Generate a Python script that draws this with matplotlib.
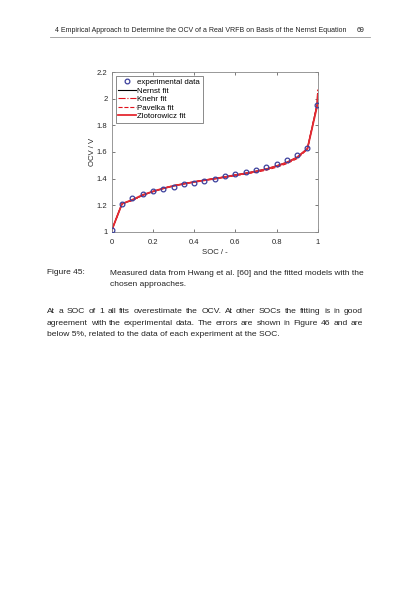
import matplotlib
matplotlib.use('Agg')
import matplotlib.pyplot as plt
import numpy as np

plt.rcParams['font.family'] = ['Liberation Sans', 'DejaVu Sans']

# measured data (Hwang et al.)
soc_exp = [0.0, 0.05, 0.10, 0.15, 0.20, 0.25, 0.30, 0.35, 0.40, 0.45, 0.50,
           0.55, 0.60, 0.65, 0.70, 0.75, 0.80, 0.85, 0.90, 0.95, 0.998]
ocv_exp = [1.01, 1.21, 1.256, 1.282, 1.306, 1.32, 1.337, 1.356, 1.369, 1.385, 1.398,
           1.418, 1.434, 1.447, 1.465, 1.488, 1.51, 1.537, 1.575, 1.63, 1.954]

# fitted models
soc_fit = [0.0, 0.05, 0.10, 0.15, 0.20, 0.25, 0.30, 0.35, 0.40, 0.45, 0.50,
           0.55, 0.60, 0.65, 0.70, 0.75, 0.80, 0.85, 0.90, 0.95, 0.998, 1.0]
ocv_nernst = [1.01, 1.21, 1.238, 1.275, 1.302, 1.325, 1.345, 1.36, 1.375, 1.388, 1.40,
              1.413, 1.427, 1.44, 1.455, 1.472, 1.495, 1.522, 1.56, 1.625, 1.96, 2.04]
ocv_knehr = [1.01, 1.21, 1.236, 1.274, 1.303, 1.327, 1.347, 1.362, 1.376, 1.389, 1.40,
             1.413, 1.426, 1.439, 1.453, 1.47, 1.492, 1.52, 1.558, 1.625, 1.97, 2.07]
ocv_pavelka = [1.01, 1.21, 1.236, 1.273, 1.302, 1.326, 1.346, 1.361, 1.375, 1.387, 1.398,
               1.41, 1.422, 1.434, 1.447, 1.463, 1.485, 1.512, 1.55, 1.62, 1.96, 2.05]
ocv_zloto = [1.01, 1.21, 1.24, 1.277, 1.303, 1.326, 1.345, 1.36, 1.374, 1.387, 1.399,
             1.412, 1.426, 1.439, 1.454, 1.471, 1.494, 1.521, 1.56, 1.625, 1.95, 2.03]

header = "4 Empirical Approach to Determine the OCV of a Real VRFB on Basis of the Nernst Equation"
page_no = "69"
caption_label = "Figure 45:"
caption_lines = ["Measured data from Hwang et al. [60] and the fitted models with the",
                 "chosen approaches."]
para_lines = ["At a SOC of 1 all fits overestimate the OCV. At other SOCs the fitting is in good",
              "agreement with the experimental data. The errors are shown in Figure 46 and are",
              "below 5%, related to the data of each experiment at the SOC."]

W, H = 420, 595
fig = plt.figure(figsize=(W / 100, H / 100), dpi=100)
fig.patch.set_facecolor('white')


def px(x, y):
    return x / W, 1 - y / H


def justified(line, x0, x1, y, size, justify=True):
    words = line.split(' ')
    if not justify or len(words) == 1:
        fig.text(*px(x0, y), line, fontsize=size, va='center', ha='left', color='#222222')
        return
    r = fig.canvas.get_renderer()
    widths = []
    for w in words:
        t = fig.text(0, 0, w, fontsize=size)
        widths.append(t.get_window_extent(r).width)
        t.remove()
    gap = (x1 - x0 - sum(widths)) / (len(words) - 1)
    x = x0
    for w, wd in zip(words, widths):
        fig.text(*px(x, y), w, fontsize=size, va='center', ha='left', color='#222222')
        x += wd + gap


# page header
fig.text(*px(54.5, 31), header, fontsize=5.0, va='center', ha='left', color='#222222')
fig.text(*px(357, 31), page_no, fontsize=5.0, va='center', ha='left', color='#222222')
fig.add_artist(plt.Line2D([50 / W, 370 / W], [1 - 37.3 / H] * 2, color='#999999', lw=0.6))

# chart
ax = fig.add_axes([111.7 / W, 1 - 231.7 / H, 206 / W, 159.4 / H])
ax.plot(soc_exp, ocv_exp, 'o', mfc='none', mec='#3b3f9c', mew=0.9, ms=3.4,
        label='experimental data', zorder=5)
ax.plot(soc_fit, ocv_nernst, '-', color='black', lw=0.8, label='Nernst fit')
ax.plot(soc_fit, ocv_knehr, '-.', color='#e0101a', lw=0.8, label='Knehr fit')
ax.plot(soc_fit, ocv_pavelka, '--', color='#e0101a', lw=0.8, label='Pavelka fit')
ax.plot(soc_fit, ocv_zloto, '-', color='#e52a32', lw=1.3, label='Zlotorowicz fit')

ax.set_xlim(0, 1)
ax.set_ylim(1, 2.2)
ax.set_xticks([0, 0.2, 0.4, 0.6, 0.8, 1])
ax.set_xticklabels(['0', '0.2', '0.4', '0.6', '0.8', '1'])
ax.set_yticks([1, 1.2, 1.4, 1.6, 1.8, 2, 2.2])
ax.set_yticklabels(['1', '1.2', '1.4', '1.6', '1.8', '2', '2.2'])
ax.tick_params(direction='in', length=2.5, width=0.5, labelsize=5.5, colors='#444444',
               labelcolor='#262626', top=True, right=True)
ax.tick_params(axis='x', pad=5.5)
ax.tick_params(axis='y', pad=3)
for s in ax.spines.values():
    s.set_color('#888888')
    s.set_linewidth(0.6)
ax.set_xlabel('SOC / -', fontsize=5.6, color='#262626', labelpad=2)
ax.set_ylabel('OCV / V', fontsize=5.6, color='#262626', labelpad=1)
leg = ax.legend(loc='upper left', fontsize=5.7, frameon=True, fancybox=False,
                edgecolor='#333333', borderpad=0.3, labelspacing=0.12,
                handlelength=2.3, handletextpad=0.15, borderaxespad=0.5)
leg.get_frame().set_linewidth(0.5)

# caption
fig.text(*px(47, 273), caption_label, fontsize=6.05, va='center', ha='left', color='#222222')
justified(caption_lines[0], 110.5, 363, 273.3, 6.05, justify=False)
justified(caption_lines[1], 110.5, 363, 284.5, 6.05, justify=False)

# paragraph
for i, line in enumerate(para_lines):
    justified(line, 47, 363, 311.7 + i * 11.6, 6.1, justify=(i < 2))

fig.savefig('out.png', dpi=100, facecolor='white')
